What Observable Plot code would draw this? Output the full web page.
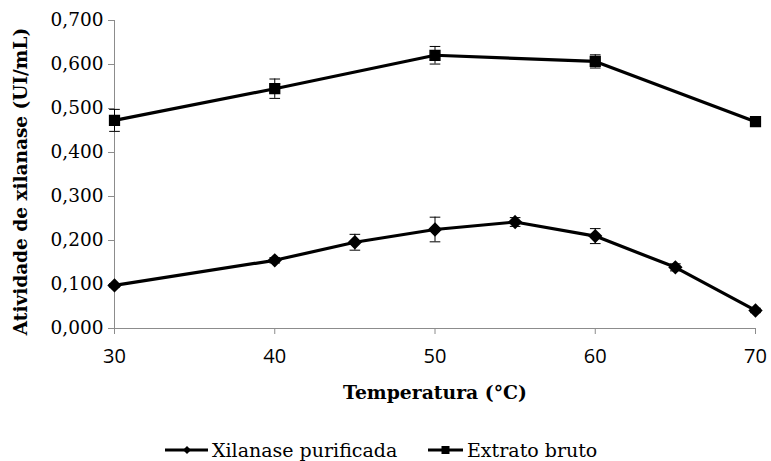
<!DOCTYPE html>
<html><head><meta charset="utf-8">
<script src="https://cdn.jsdelivr.net/npm/d3@7"></script>
<script src="https://cdn.jsdelivr.net/npm/@observablehq/plot@0.6"></script>
<style>
body{margin:0;background:#fff;font-family:"DejaVu Serif",serif;position:relative;width:771px;height:461px;overflow:hidden;}
#legend{position:absolute;left:0;top:439px;font-size:19px;color:#000;line-height:22px;}
.item{position:absolute;top:0;display:flex;align-items:center;white-space:nowrap;}
.item svg{display:block;margin-right:4px;}
</style></head>
<body><div id="chart"></div><div id="legend"></div>
<script>
const temps = [30, 40, 45, 50, 55, 60, 65, 70];
const xilanase = [0.098, 0.155, 0.196, 0.225, 0.242, 0.210, 0.139, 0.041];
const xilanaseErr = [0.004, 0.006, 0.018, 0.028, 0.010, 0.017, 0.008, 0.005];
const tempsBruto = [30, 40, 50, 60, 70];
const bruto = [0.473, 0.545, 0.621, 0.607, 0.470];
const brutoErr = [0.025, 0.022, 0.020, 0.015, 0.006];
const seriesNames = ["Xilanase purificada", "Extrato bruto"];
const xTicks = [30, 40, 50, 60, 70];
const yTicks = [0, 0.1, 0.2, 0.3, 0.4, 0.5, 0.6, 0.7];

const data = [
  ...temps.map((t, i) => ({s: seriesNames[0], x: t, y: xilanase[i], e: xilanaseErr[i]})),
  ...tempsBruto.map((t, i) => ({s: seriesNames[1], x: t, y: bruto[i], e: brutoErr[i]}))
];
const capSymbol = {draw(ctx, size){ const w = Math.sqrt(size) / 2; ctx.moveTo(-w, 0); ctx.lineTo(w, 0); }};
const fmt = d => d.toFixed(3).replace(".", ",");

const chart = Plot.plot({
  width: 771, height: 420,
  marginLeft: 114, marginRight: 16, marginTop: 20, marginBottom: 92,
  style: {fontFamily: "DejaVu Serif, serif", fontSize: "18.5px", color: "#000", background: "#fff"},
  x: {domain: [30, 70]},
  y: {domain: [0, 0.7]},
  marks: [
    Plot.axisX({ticks: xTicks, tickSize: 6, stroke: "#8c8c8c", tickPadding: 14, fill: "#000", fontSize: 20, fontFamily: "Open Sans, sans-serif", label: null}),
    Plot.axisX({ticks: [], label: "Temperatura (°C)", labelAnchor: "center", labelArrow: false, labelOffset: 70, fontSize: 18.8, fill: "#000"}),
    Plot.axisY({ticks: yTicks, tickSize: 6, stroke: "#8c8c8c", tickPadding: 5, tickFormat: fmt, fill: "#000", fontSize: 18.5,
      label: "Atividade de xilanase (UI/mL)", labelAnchor: "center", labelArrow: false, labelOffset: 101}),
    Plot.ruleY([0], {stroke: "#8c8c8c"}),
    Plot.ruleX([30], {stroke: "#8c8c8c"}),
    Plot.ruleX(data, {x: "x", y1: d => d.y - d.e, y2: d => d.y + d.e, stroke: "#000", strokeWidth: 1}),
    Plot.dot(data, {x: "x", y: d => d.y - d.e, symbol: capSymbol, r: 6, stroke: "#000", strokeWidth: 1}),
    Plot.dot(data, {x: "x", y: d => d.y + d.e, symbol: capSymbol, r: 6, stroke: "#000", strokeWidth: 1}),
    Plot.line(data, {x: "x", y: "y", z: "s", stroke: "#000", strokeWidth: 3.2}),
    Plot.dot(data.filter(d => d.s === seriesNames[0]), {x: "x", y: "y", symbol: "diamond2", r: 5.5, fill: "#000", stroke: "#000"}),
    Plot.dot(data.filter(d => d.s === seriesNames[1]), {x: "x", y: "y", symbol: "square", r: 5.5, fill: "#000", stroke: "#000"})
  ]
});
chart.querySelectorAll('[aria-label="y-axis label"] text, [aria-label="x-axis label"] text').forEach(t => t.setAttribute("font-weight", "bold"));
chart.querySelectorAll('[aria-label="y-axis label"] text').forEach(t => t.setAttribute("dx", "-7"));
document.getElementById("chart").appendChild(chart);

const legend = document.getElementById("legend");
const sym = [
  '<svg width="43" height="14"><line x1="0" y1="7" x2="43" y2="7" stroke="#000" stroke-width="3.2"/><path d="M22 3 L26 7 L22 11 L18 7Z" fill="#000"/></svg>',
  '<svg width="35" height="14"><line x1="0" y1="7" x2="35" y2="7" stroke="#000" stroke-width="3.2"/><rect x="13.5" y="3" width="8" height="8" fill="#000"/></svg>'
];
const lefts = [165, 428];
seriesNames.forEach((n, i) => {
  const d = document.createElement("div");
  d.className = "item";
  d.style.left = lefts[i] + "px";
  d.innerHTML = sym[i] + "<span>" + n + "</span>";
  legend.appendChild(d);
});
</script></body></html>
